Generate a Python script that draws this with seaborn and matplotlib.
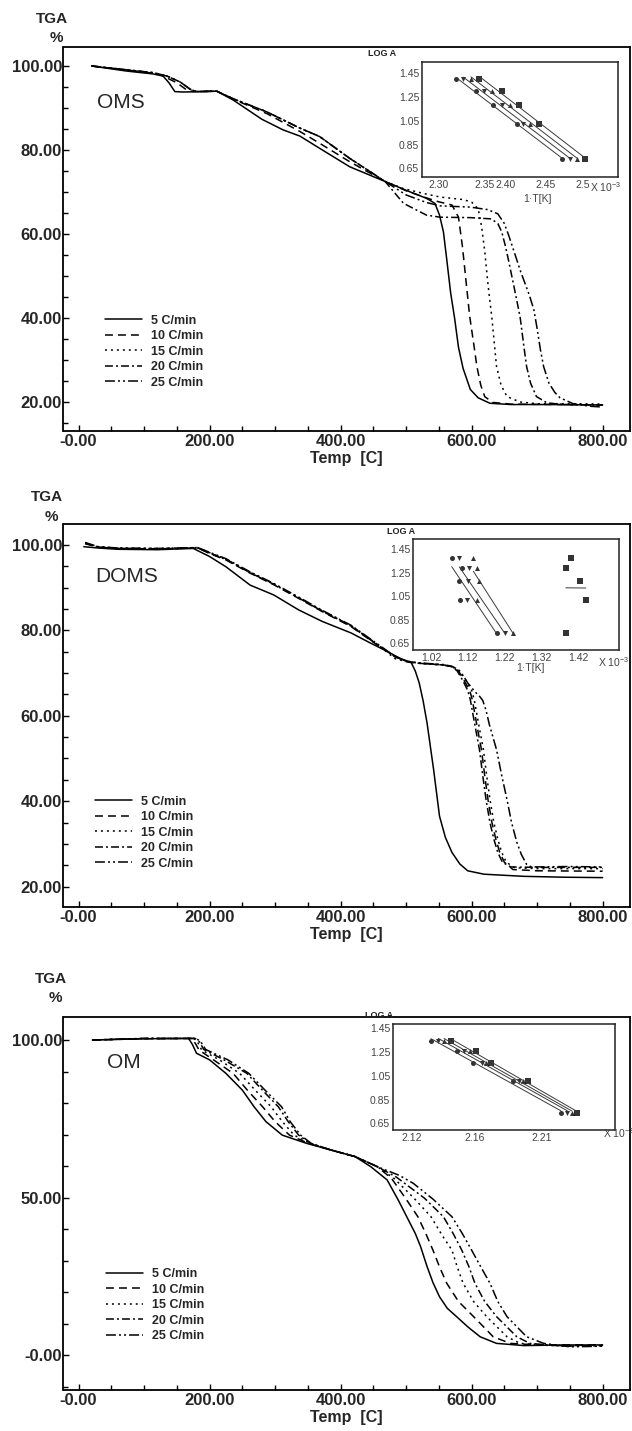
import numpy as np
import pandas as pd
import matplotlib.pyplot as plt
import seaborn as sns
from matplotlib.ticker import MultipleLocator

# heating rates (legend)
rates = ['5 C/min', '10 C/min', '15 C/min', '20 C/min', '25 C/min']

# ---- OMS: temperature (C) / weight (%) ----
oms_t5 = [20, 73, 114, 129, 138, 147, 160, 211, 236, 280, 312, 338, 368, 414, 468, 500, 531, 544, 551, 557, 562, 568, 574, 580, 587, 598, 610, 628, 660, 720, 800]
oms_w5 = [100.0, 98.8, 98.1, 97.6, 96.0, 93.9, 93.8, 94.0, 91.9, 87.3, 84.8, 83.3, 80.4, 76.0, 72.5, 70.4, 68.5, 67.3, 64.5, 60.5, 54.0, 46.0, 40.0, 33.0, 28.0, 23.0, 21.0, 19.7, 19.4, 19.4, 19.3]
oms_t10 = [20, 73, 114, 125, 150, 165, 175, 211, 236, 287, 338, 368, 414, 468, 500, 531, 549, 570, 580, 586, 592, 597, 604, 608, 614, 620, 632, 660, 800]
oms_w10 = [100.0, 99.0, 98.3, 97.9, 96.0, 94.3, 93.9, 94.0, 92.1, 88.7, 84.4, 81.6, 77.2, 72.5, 70.3, 68.6, 67.7, 66.9, 64.0, 57.0, 48.0, 40.5, 33.0, 28.5, 24.0, 21.3, 19.9, 19.5, 19.3]
oms_t15 = [20, 73, 114, 135, 155, 170, 180, 211, 236, 287, 338, 368, 414, 468, 496, 531, 552, 587, 600, 610, 615, 620, 625, 631, 638, 645, 654, 674, 700, 760, 800]
oms_w15 = [100.0, 99.1, 98.4, 97.6, 96.2, 94.5, 93.9, 94.0, 92.2, 89.1, 85.2, 83.2, 78.0, 72.5, 70.8, 69.5, 68.8, 68.2, 67.6, 66.0, 62.0, 56.0, 48.0, 40.0, 28.5, 24.0, 21.3, 20.0, 19.6, 19.6, 19.5]
oms_t20 = [20, 73, 114, 135, 155, 170, 180, 211, 236, 287, 338, 368, 414, 468, 496, 531, 552, 598, 630, 640, 646, 651, 656, 664, 674, 680, 684, 690, 699, 715, 740, 800]
oms_w20 = [100.0, 99.1, 98.4, 97.6, 96.2, 94.5, 93.9, 94.0, 92.2, 89.1, 85.2, 83.2, 78.0, 72.5, 67.3, 64.5, 64.0, 63.9, 63.6, 62.5, 60.5, 57.5, 54.0, 48.0, 40.3, 33.0, 28.4, 24.5, 21.3, 19.8, 19.4, 19.3]
oms_t25 = [20, 73, 114, 135, 155, 170, 180, 211, 236, 287, 338, 368, 414, 468, 500, 531, 552, 598, 625, 640, 650, 657, 664, 675, 688, 695, 700, 705, 710, 718, 727, 735, 755, 780, 800]
oms_w25 = [100.0, 99.1, 98.4, 97.6, 96.2, 94.5, 93.9, 94.0, 92.2, 89.1, 85.2, 83.2, 78.0, 72.5, 69.3, 67.5, 66.7, 66.4, 65.8, 64.8, 62.5, 59.5, 56.2, 51.0, 45.5, 42.0, 37.5, 32.5, 28.4, 24.5, 22.3, 21.0, 19.6, 19.0, 18.8]

# ---- DOMS ----
doms_t5 = [8, 30, 60, 120, 175, 200, 225, 262, 298, 336, 372, 416, 446, 471, 495, 508, 514, 520, 526, 532, 542, 551, 560, 570, 582, 594, 619, 680, 740, 800]
doms_w5 = [99.6, 99.3, 99.0, 98.9, 99.2, 97.3, 94.9, 90.6, 88.3, 84.8, 82.1, 79.4, 77.0, 75.1, 73.1, 72.4, 70.5, 67.7, 63.5, 58.3, 47.4, 36.5, 31.5, 28.0, 25.3, 23.7, 22.9, 22.4, 22.2, 22.1]
doms_t10 = [10, 30, 60, 120, 182, 200, 225, 262, 298, 336, 372, 416, 452, 483, 502, 520, 557, 570, 580, 588, 597, 601, 609, 615, 620, 625, 631, 637, 643, 650, 663, 700, 800]
doms_w10 = [100.3, 99.5, 99.2, 99.1, 99.3, 98.0, 96.5, 93.4, 90.7, 87.5, 84.4, 80.9, 77.0, 73.9, 72.7, 72.3, 71.9, 71.5, 70.5, 68.4, 66.0, 63.8, 57.0, 52.1, 46.0, 40.4, 35.0, 31.1, 28.0, 25.7, 24.0, 23.7, 23.6]
doms_t15 = [10, 30, 60, 120, 182, 200, 225, 262, 298, 336, 372, 416, 452, 483, 502, 520, 557, 570, 582, 591, 600, 604, 612, 618, 623, 628, 634, 640, 646, 653, 666, 700, 800]
doms_w15 = [100.5, 99.6, 99.3, 99.2, 99.4, 98.2, 96.7, 93.6, 90.9, 87.7, 84.6, 81.1, 77.2, 73.4, 72.6, 72.3, 71.9, 71.5, 70.5, 68.4, 66.0, 63.8, 57.0, 52.1, 46.0, 40.4, 35.0, 31.1, 28.0, 25.7, 24.4, 24.2, 24.2]
doms_t20 = [10, 30, 60, 120, 182, 200, 225, 262, 298, 336, 372, 416, 452, 483, 502, 520, 557, 570, 578, 586, 594, 598, 606, 612, 617, 622, 628, 634, 640, 647, 660, 700, 800]
doms_w20 = [100.4, 99.5, 99.2, 99.1, 99.3, 98.1, 96.6, 93.5, 90.8, 87.6, 84.5, 81.0, 77.1, 73.8, 72.7, 72.3, 71.9, 71.5, 70.5, 68.4, 66.0, 63.8, 57.0, 52.1, 46.0, 40.4, 35.0, 31.1, 28.0, 25.7, 24.6, 24.5, 24.5]
doms_t25 = [10, 30, 60, 120, 182, 200, 225, 262, 298, 336, 372, 416, 452, 483, 502, 520, 557, 570, 580, 588, 594, 600, 606, 612, 617, 622, 627, 638, 646, 654, 661, 669, 676, 684, 690, 694, 750, 800]
doms_w25 = [100.6, 99.6, 99.3, 99.2, 99.4, 98.3, 96.8, 93.7, 91.0, 87.8, 84.7, 81.2, 77.3, 73.9, 72.8, 72.4, 72.0, 71.6, 70.8, 69.2, 67.7, 66.6, 65.5, 64.6, 63.6, 61.3, 58.0, 52.1, 46.0, 40.4, 35.0, 30.4, 27.5, 25.2, 24.7, 24.6, 24.7, 24.6]

# ---- OM ----
om_t5 = [21, 100, 168, 174, 180, 200, 225, 250, 268, 286, 311, 348, 385, 422, 446, 471, 488, 501, 514, 522, 532, 541, 551, 563, 577, 595, 613, 638, 680, 740, 800]
om_w5 = [100.0, 100.4, 100.5, 98.5, 95.8, 93.7, 89.4, 84.1, 78.8, 74.1, 69.8, 67.2, 65.1, 63.0, 59.8, 55.6, 49.2, 43.9, 38.6, 34.5, 28.1, 23.0, 18.5, 14.8, 12.2, 8.8, 5.8, 3.7, 3.0, 3.2, 3.2]
om_t10 = [21, 100, 172, 178, 184, 206, 236, 258, 281, 300, 322, 351, 385, 422, 456, 478, 500, 518, 530, 541, 551, 562, 580, 603, 633, 659, 700, 800]
om_w10 = [100.0, 100.4, 100.5, 99.0, 96.8, 93.7, 89.4, 84.0, 78.8, 74.1, 69.8, 67.2, 65.1, 63.0, 59.8, 56.0, 49.5, 43.9, 38.6, 33.3, 28.0, 22.8, 17.0, 12.2, 5.8, 3.7, 3.2, 3.2]
om_t15 = [21, 100, 176, 182, 188, 215, 246, 270, 294, 311, 329, 353, 385, 422, 456, 482, 512, 538, 555, 570, 578, 587, 603, 623, 654, 674, 720, 800]
om_w15 = [100.0, 100.5, 100.5, 99.2, 96.8, 93.7, 89.4, 84.0, 78.8, 74.1, 69.8, 67.2, 65.1, 63.0, 59.8, 56.0, 49.8, 43.9, 38.0, 33.3, 28.0, 22.8, 17.0, 12.2, 5.8, 3.7, 3.0, 3.0]
om_t20 = [21, 100, 178, 185, 191, 222, 257, 281, 305, 320, 336, 354, 385, 422, 456, 485, 528, 557, 572, 585, 596, 605, 620, 638, 669, 689, 740, 800]
om_w20 = [100.0, 100.5, 100.5, 99.3, 97.0, 93.7, 89.4, 84.0, 78.8, 74.1, 69.8, 67.2, 65.1, 63.0, 59.8, 56.5, 49.8, 43.9, 38.5, 33.3, 28.0, 22.8, 17.0, 12.2, 5.8, 3.7, 2.8, 3.0]
om_t25 = [21, 100, 180, 187, 194, 228, 260, 285, 310, 323, 339, 355, 385, 422, 456, 490, 511, 541, 570, 586, 600, 614, 628, 640, 654, 684, 710, 750, 800]
om_w25 = [100.0, 100.5, 100.5, 99.3, 97.0, 93.7, 89.4, 84.0, 78.8, 74.1, 69.8, 67.2, 65.1, 63.0, 59.8, 57.0, 54.5, 49.5, 43.9, 38.5, 33.3, 28.0, 22.8, 17.0, 12.2, 5.8, 3.7, 2.6, 2.8]

# ---- insets: log(heating rate) rows and 1/T positions per conversion ----
ins1_logb = [1.40, 1.30, 1.185, 1.025, 0.73]
ins1_circ = [2.3236, 2.351, 2.3754, 2.408, 2.471]
ins1_down = [2.3338, 2.3625, 2.387, 2.417, 2.482]
ins1_up = [2.3444, 2.374, 2.3986, 2.427, 2.492]
ins1_sq = [2.3556, 2.387, 2.4115, 2.439, 2.503]
ins1_xticks = [2.30, 2.3639, 2.3931, 2.4486, 2.50]
ins1_xlabels = ['2.30', '2.35', '2.40', '2.45', '2.5']

ins2_logb = [1.376, 1.286, 1.179, 1.018, 0.741]
ins2_circ = [1.0763, 1.1042, 1.0969, 1.0988, 1.1985]
ins2_down = [1.0969, 1.1224, 1.1197, 1.1186, 1.2219]
ins2_up = [1.1349, 1.1458, 1.1512, 1.1442, 1.2436]
ins2_sq = [1.3996, 1.386, 1.4249, 1.4404, 1.3868]
ins2_xticks = [1.02, 1.12, 1.22, 1.32, 1.42]
ins2_xlabels = ['1.02', '1.12', '1.22', '1.32', '1.42']

ins3_logb = [1.346, 1.261, 1.155, 1.005, 0.74]
ins3_circ = [2.1334, 2.1511, 2.1626, 2.1899, 2.2233]
ins3_down = [2.1384, 2.1562, 2.1684, 2.1945, 2.2277]
ins3_up = [2.1424, 2.1603, 2.1714, 2.1973, 2.2309]
ins3_sq = [2.147, 2.1645, 2.1749, 2.2007, 2.2342]
ins3_xticks = [2.12, 2.1638, 2.21]
ins3_xlabels = ['2.12', '2.16', '2.21']

logA_ticks = [0.65, 0.85, 1.05, 1.25, 1.45]

sns.set_theme(style='ticks')
plt.rcParams['font.family'] = ['Liberation Sans', 'DejaVu Sans']
plt.rcParams['mathtext.fontset'] = 'custom'
plt.rcParams['mathtext.rm'] = 'Liberation Sans'

W, H = 632, 1431
fig = plt.figure(figsize=(W / 100, H / 100), dpi=100)


def px_box(l, t, r, b):
    return [l / W, 1 - b / H, (r - l) / W, (b - t) / H]


def ftext(x, y, s, **kw):
    fig.text(x / W, 1 - y / H, s, **kw)


def tga_frame(temps, weights):
    parts = [pd.DataFrame({'Temp': t, 'TGA': w, 'Rate': r})
             for r, t, w in zip(rates, temps, weights)]
    return pd.concat(parts, ignore_index=True)


def fmt(v):
    return '-0.00' if v == 0 else f'{v:.2f}'


dash_map = {'5 C/min': '', '10 C/min': (5.2, 3.3), '15 C/min': (1.3, 2.6),
            '20 C/min': (5.2, 2, 1.3, 2), '25 C/min': (6.5, 2, 1.3, 2, 1.3, 2)}


def main_panel(box, df, ylim, yticks, yminor, legend_xy):
    ax = fig.add_axes(px_box(*box))
    sns.lineplot(data=df, x='Temp', y='TGA', style='Rate', style_order=rates,
                 dashes=dash_map, color='black', linewidth=1.1,
                 estimator=None, sort=False, ax=ax)
    ax.set_xlim(-23, 841.8)
    ax.set_ylim(*ylim)
    xt = [0, 200, 400, 600, 800]
    ax.set_xticks(xt, [fmt(v) for v in xt], fontsize=12, fontweight='bold')
    ax.set_yticks(yticks, [fmt(v) for v in yticks], fontsize=12, fontweight='bold')
    ax.xaxis.set_minor_locator(MultipleLocator(50))
    ax.yaxis.set_minor_locator(MultipleLocator(yminor))
    ax.tick_params(which='both', direction='in', width=1.0, color='black')
    ax.tick_params(which='major', length=4)
    ax.tick_params(which='minor', length=3.5)
    ax.tick_params(axis='x', pad=2.5)
    ax.tick_params(axis='y', pad=1)
    for s in ax.spines.values():
        s.set_linewidth(1.3)
        s.set_color('black')
    ax.set_xlabel('Temp  [C]', fontsize=11.5, fontweight='bold', labelpad=1)
    ax.set_ylabel('')
    sns.move_legend(ax, 'upper left', bbox_to_anchor=legend_xy, frameon=False,
                    title=None, handlelength=3.0, handletextpad=0.7,
                    labelspacing=0.28, borderaxespad=0, borderpad=0,
                    prop={'weight': 'bold', 'size': 9})
    return ax


def inset(box, groups, logb, xlim, ylim, xticks, xlabels, loga_px):
    ax = fig.add_axes(px_box(*box))
    ax.set_facecolor('white')
    for xs, mk in zip(groups, ['o', 'v', '^', 's']):
        sns.regplot(x=np.array(xs), y=np.array(logb), ax=ax, ci=None, marker=mk,
                    color='black', truncate=True,
                    scatter_kws={'s': 13, 'linewidths': 0},
                    line_kws={'linewidth': 0.7, 'color': '#3a3a3a'})
    ax.set_xlim(*xlim)
    ax.set_ylim(*ylim)
    ax.set_xticks(xticks, xlabels, fontsize=7.5, color='#444444')
    ax.set_yticks(logA_ticks, [f'{v:.2f}' for v in logA_ticks], fontsize=7.5, color='#444444')
    ax.tick_params(length=0, pad=2)
    ax.set_xlabel('')
    ax.set_ylabel('')
    for s in ax.spines.values():
        s.set_linewidth(1.1)
        s.set_color('#222222')
    ftext(loga_px[0], loga_px[1], 'LOG A', ha='right', va='center',
          fontsize=6.5, fontweight='bold', color='#222222')
    return ax


# ---- panel OMS ----
main_panel((63.5, 47, 630, 430.7),
           tga_frame([oms_t5, oms_t10, oms_t15, oms_t20, oms_t25],
                     [oms_w5, oms_w10, oms_w15, oms_w20, oms_w25]),
           (13.17, 104.52), [20, 40, 60, 80, 100], 5, (0.073, 0.302))
inset((422, 62, 618, 177), [ins1_circ, ins1_down, ins1_up, ins1_sq], ins1_logb,
      (2.2764, 2.5486), (0.5767, 1.545), ins1_xticks, ins1_xlabels, (396, 53))
ftext(97, 102.5, 'OMS', fontsize=15, va='center', ha='left')
ftext(52, 18.7, 'TGA', fontsize=11, fontweight='bold', ha='center', va='center')
ftext(56.5, 37.5, '%', fontsize=11, fontweight='bold', ha='center', va='center')
ftext(537, 199, '1·T[K]', fontsize=7.5, color='#444444', ha='center', va='center')
ftext(590, 187, r'X 10$^{-3}$', fontsize=7.5, color='#444444', ha='left', va='center')

# ---- panel DOMS ----
main_panel((63.5, 524.3, 630, 906.7),
           tga_frame([doms_t5, doms_t10, doms_t15, doms_t20, doms_t25],
                     [doms_w5, doms_w10, doms_w15, doms_w20, doms_w25]),
           (15.29, 104.85), [20, 40, 60, 80, 100], 5, (0.0556, 0.290))
inset((413, 539, 619, 650), [ins2_circ, ins2_down, ins2_up, ins2_sq], ins2_logb,
      (0.9711, 1.5305), (0.593, 1.535), ins2_xticks, ins2_xlabels, (415, 532))
ftext(95, 577, 'DOMS', fontsize=15, va='center', ha='left')
ftext(47, 496.7, 'TGA', fontsize=11, fontweight='bold', ha='center', va='center')
ftext(51, 516.7, '%', fontsize=11, fontweight='bold', ha='center', va='center')
ftext(530, 668, '1·T[K]', fontsize=7.5, color='#444444', ha='center', va='center')
ftext(598, 662, r'X 10$^{-3}$', fontsize=7.5, color='#444444', ha='left', va='center')

# ---- panel OM ----
main_panel((63.5, 1016.7, 630, 1390),
           tga_frame([om_t5, om_t10, om_t15, om_t20, om_t25],
                     [om_w5, om_w10, om_w15, om_w20, om_w25]),
           (-11.1, 107.4), [0, 50, 100], 10, (0.0743, 0.326))
inset((393, 1024, 615, 1130), [ins3_circ, ins3_down, ins3_up, ins3_sq], ins3_logb,
      (2.1071, 2.2607), (0.594, 1.486), ins3_xticks, ins3_xlabels, (393, 1015))
ftext(107, 1062, 'OM', fontsize=15, va='center', ha='left')
ftext(51, 979, 'TGA', fontsize=11, fontweight='bold', ha='center', va='center')
ftext(55, 998.5, '%', fontsize=11, fontweight='bold', ha='center', va='center')
ftext(603, 1133, r'X 10$^{-3}$', fontsize=7.5, color='#444444', ha='left', va='center')

fig.savefig('out.png', dpi=100)
plt.close(fig)
